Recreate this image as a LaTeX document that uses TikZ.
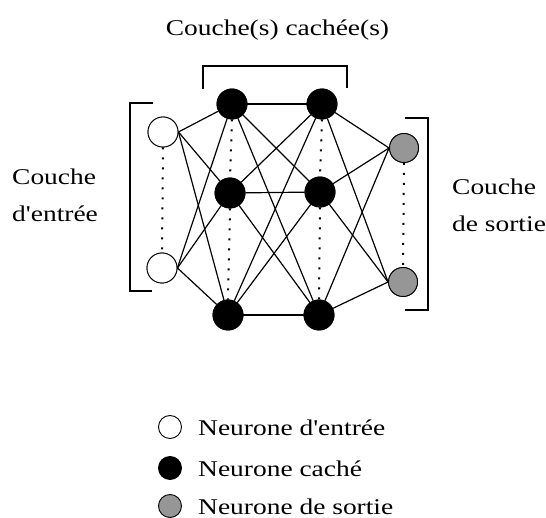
\documentclass[tikz,border=0pt]{standalone}
\usepackage{fontspec}
\setmainfont[FakeStretch=1.22,Ligatures=TeXOff]{Liberation Serif}
\definecolor{outgray}{RGB}{150,150,150}
\begin{document}
\begin{tikzpicture}[x=1pt,y=-1pt,
  neuron/.style={circle,draw=black,line width=0.9pt,minimum size=30pt,inner sep=0pt},
  inneur/.style={neuron,fill=white},
  hidneur/.style={neuron,fill=black},
  outneur/.style={neuron,fill=outgray,minimum size=29pt},
  legcirc/.style={circle,draw=black,line width=0.9pt,minimum size=23pt,inner sep=0pt},
  link/.style={line width=1.2pt},
  dots/.style={line width=2pt,dash pattern=on 2pt off 8pt},
  brack/.style={line width=1.3pt},
  lbl/.style={inner sep=0pt,font=\fontsize{22.5}{27}\selectfont}]
\useasboundingbox (0,0) rectangle (546,518);
% nodes
\node[inneur] (I1) at (163,132) {};
\node[inneur] (I2) at (162,268) {};
\node[hidneur] (A1) at (232,104) {};
\node[hidneur] (A2) at (230,193) {};
\node[hidneur] (A3) at (228,315) {};
\node[hidneur] (B1) at (322,104) {};
\node[hidneur] (B2) at (320,192) {};
\node[hidneur] (B3) at (319,315) {};
\node[outneur] (O1) at (404,148) {};
\node[outneur] (O2) at (403,282) {};
% dotted columns
\draw[dots] (I1.south) -- (I2.north);
\draw[dots] (A1.south) -- (A2.north);
\draw[dots] (A2.south) -- (A3.north);
\draw[dots] (B1.south) -- (B2.north);
\draw[dots] (B2.south) -- (B3.north);
\draw[dots] (O1.south) -- (O2.north);
% input -> hidden 1
\foreach \i in {I1,I2}{
  \foreach \h in {A1,A2,A3}{
    \draw[link] (\i.east) -- (\h);
  }
}
% hidden 1 -> hidden 2
\foreach \a in {A1,A2,A3}{
  \foreach \b in {B1,B2,B3}{
    \draw[link] (\a) -- (\b);
  }
}
% hidden 2 -> output
\foreach \b in {B1,B2,B3}{
  \foreach \o in {O1,O2}{
    \draw[link] (\b) -- (\o.west);
  }
}
% redraw nodes on top
\node[inneur] at (I1) {};
\node[inneur] at (I2) {};
\foreach \n in {A1,A2,A3,B1,B2,B3}{\node[hidneur] at (\n) {};}
\node[outneur] at (O1) {};
\node[outneur] at (O2) {};
% brackets
\coordinate (tb1) at (203,89);
\coordinate (tb2) at (203,66);
\coordinate (tb3) at (347,66);
\coordinate (tb4) at (347,88);
\draw[brack] (tb1) -- (tb2) -- (tb3) -- (tb4);
\coordinate (lb1) at (153,103);
\coordinate (lb2) at (130,103);
\coordinate (lb3) at (130,291);
\coordinate (lb4) at (152,291);
\draw[brack] (lb1) -- (lb2) -- (lb3) -- (lb4);
\coordinate (rb1) at (405,118);
\coordinate (rb2) at (428,118);
\coordinate (rb3) at (428,310);
\coordinate (rb4) at (405,310);
\draw[brack] (rb1) -- (rb2) -- (rb3) -- (rb4);
% labels
\node[lbl,anchor=base] (title) at (277.5,36) {Couche(s) cachée(s)};
\node[lbl,anchor=base west] (inl1) at (12,185) {Couche};
\node[lbl,anchor=base west] (inl2) at (12,222) {d'entrée};
\node[lbl,anchor=base west] (outl1) at (452,195) {Couche};
\node[lbl,anchor=base west] (outl2) at (452,232) {de sortie};
% legend
\node[legcirc,fill=white] (L1) at (170,427) {};
\node[legcirc,fill=black] (L2) at (170,468) {};
\node[legcirc,fill=outgray] (L3) at (170,506) {};
\node[lbl,anchor=base west] (T1) at (198,435) {Neurone d'entrée};
\node[lbl,anchor=base west] (T2) at (198,476) {Neurone caché};
\node[lbl,anchor=base west] (T3) at (198,514) {Neurone de sortie};
\end{tikzpicture}
\end{document}
